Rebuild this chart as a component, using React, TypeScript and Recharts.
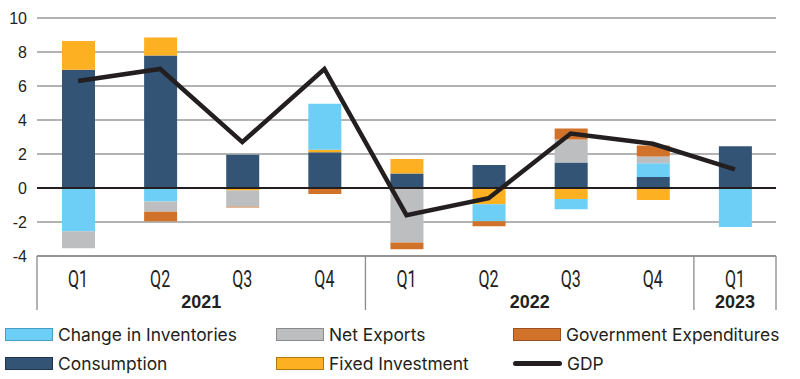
import React from "react";
import { ComposedChart, Bar, Line, XAxis, YAxis, CartesianGrid, ReferenceLine } from "recharts";

const quarters = ["Q1", "Q2", "Q3", "Q4", "Q1", "Q2", "Q3", "Q4", "Q1"];
const years = ["2021", "2021", "2021", "2021", "2022", "2022", "2022", "2022", "2023"];
const consumption = [6.95, 7.8, 1.95, 2.1, 0.85, 1.35, 1.5, 0.65, 2.45];
const fixedInvestment = [1.7, 1.05, -0.15, 0.15, 0.85, -0.95, -0.65, -0.7, 0];
const inventories = [-2.55, -0.8, 0, 2.7, 0, -1.0, -0.6, 0.8, -2.3];
const netExports = [-1.0, -0.6, -0.95, 0, -3.2, 0, 1.35, 0.4, 0];
const government = [0, -0.55, -0.04, -0.35, -0.4, -0.3, 0.65, 0.65, 0];
const gdp = [6.3, 7.0, 2.7, 7.0, -1.6, -0.6, 3.2, 2.6, 1.1];
const yTicks = [-4, -2, 0, 2, 4, 6, 8, 10];

const COLORS = {
  inventories: "#6DCFF6",
  netExports: "#BCBEC0",
  government: "#D1722A",
  consumption: "#335475",
  fixedInvestment: "#FDB021",
  gdp: "#231F20",
};

const data = quarters.map((q, i) => ({
  key: `${years[i]}-${q}`,
  q,
  year: years[i],
  consumption: consumption[i],
  fixedInvestment: fixedInvestment[i],
  inventories: inventories[i],
  netExports: netExports[i],
  government: government[i],
  gdp: gdp[i],
}));

const legendItems = [
  { label: "Change in Inventories", color: COLORS.inventories, border: "#4a9cc0", type: "rect" },
  { label: "Net Exports", color: COLORS.netExports, border: "#8a8a8a", type: "rect" },
  { label: "Government Expenditures", color: COLORS.government, border: "#9a5020", type: "rect" },
  { label: "Consumption", color: COLORS.consumption, border: "#1f3650", type: "rect" },
  { label: "Fixed Investment", color: COLORS.fixedInvestment, border: "#b07810", type: "rect" },
  { label: "GDP", color: COLORS.gdp, border: COLORS.gdp, type: "line" },
];
const legendCols = [5, 276, 513];
const legendRows = [334, 363];

const XTick = (props: any) => {
  const { x, y, payload } = props;
  const index: number = payload.index;
  const half: number = payload.offset || 0;
  const row = data[index];
  const isGroupStart = index === 0 || data[index - 1].year !== row.year;
  const isLast = index === data.length - 1;
  let groupCount = 0;
  if (isGroupStart) {
    for (let j = index; j < data.length && data[j].year === row.year; j++) groupCount++;
  }
  const left = x - half;
  return (
    <g>
      <text
        transform={`translate(${x},${y + 31}) scale(0.7,1)`}
        x={0}
        y={0}
        textAnchor="middle"
        fontFamily="Roboto, 'Liberation Sans', sans-serif"
        fontSize={23}
        fill="#231F20"
      >
        {row.q}
      </text>
      {isGroupStart && (
        <>
          <line x1={left} y1={y} x2={left} y2={y + 54} stroke="#8a8a8a" strokeWidth={1.3} />
          <text
            x={left + groupCount * half}
            y={y + 52}
            textAnchor="middle"
            fontFamily="'Liberation Sans', Arial, sans-serif"
            fontWeight="bold"
            fontSize={18}
            fill="#231F20"
          >
            {row.year}
          </text>
        </>
      )}
      {isLast && <line x1={x + half} y1={y} x2={x + half} y2={y + 54} stroke="#8a8a8a" strokeWidth={1.3} />}
    </g>
  );
};

export default function App() {
  return (
    <div style={{ position: "absolute", left: 0, top: 0, width: 800, height: 379, background: "#fff" }}>
      <ComposedChart
        width={800}
        height={320}
        data={data}
        stackOffset="sign"
        margin={{ top: 18, right: 24, bottom: 0, left: 0 }}
        barCategoryGap="0%"
      >
        <CartesianGrid vertical={false} stroke="#9a9a9a" strokeWidth={1.3} />
        <XAxis
          dataKey="key"
          height={64}
          tickSize={0}
          tickMargin={0}
          interval={0}
          axisLine={{ stroke: "#8a8a8a", strokeWidth: 1.3 }}
          tickLine={false}
          tick={<XTick />}
        />
        <YAxis
          width={37}
          domain={[-4, 10]}
          ticks={yTicks}
          interval={0}
          axisLine={false}
          tickLine={false}
          tickSize={0}
          tickMargin={10}
          tick={{ fontFamily: "'Liberation Sans', Arial, sans-serif", fontSize: 16, fill: "#231F20" }}
        />
        <Bar dataKey="consumption" stackId="s" fill={COLORS.consumption} barSize={33} isAnimationActive={false} />
        <Bar dataKey="fixedInvestment" stackId="s" fill={COLORS.fixedInvestment} barSize={33} isAnimationActive={false} />
        <Bar dataKey="inventories" stackId="s" fill={COLORS.inventories} barSize={33} isAnimationActive={false} />
        <Bar dataKey="netExports" stackId="s" fill={COLORS.netExports} barSize={33} isAnimationActive={false} />
        <Bar dataKey="government" stackId="s" fill={COLORS.government} barSize={33} isAnimationActive={false} />
        <ReferenceLine y={0} stroke="#231F20" strokeWidth={2} />
        <Line
          type="linear"
          dataKey="gdp"
          stroke={COLORS.gdp}
          strokeWidth={4.5}
          dot={false}
          activeDot={false}
          isAnimationActive={false}
        />
      </ComposedChart>
      {legendItems.map((item, i) => {
        const col = legendCols[i % 3];
        const rowY = legendRows[Math.floor(i / 3)];
        return (
          <div
            key={item.label}
            style={{
              position: "absolute",
              left: col,
              top: rowY - 12,
              height: 24,
              display: "flex",
              alignItems: "center",
              fontFamily: "Inter, 'Liberation Sans', sans-serif",
              fontSize: 17.4,
              color: "#231F20",
              whiteSpace: "nowrap",
            }}
          >
            {item.type === "rect" ? (
              <span
                style={{
                  display: "inline-block",
                  width: 46,
                  height: 11,
                  background: item.color,
                  border: `1px solid ${item.border}`,
                  marginRight: 5,
                }}
              />
            ) : (
              <span
                style={{
                  display: "inline-block",
                  width: 49,
                  height: 5,
                  borderRadius: 3,
                  background: item.color,
                  marginRight: 5,
                }}
              />
            )}
            <span>{item.label}</span>
          </div>
        );
      })}
    </div>
  );
}
